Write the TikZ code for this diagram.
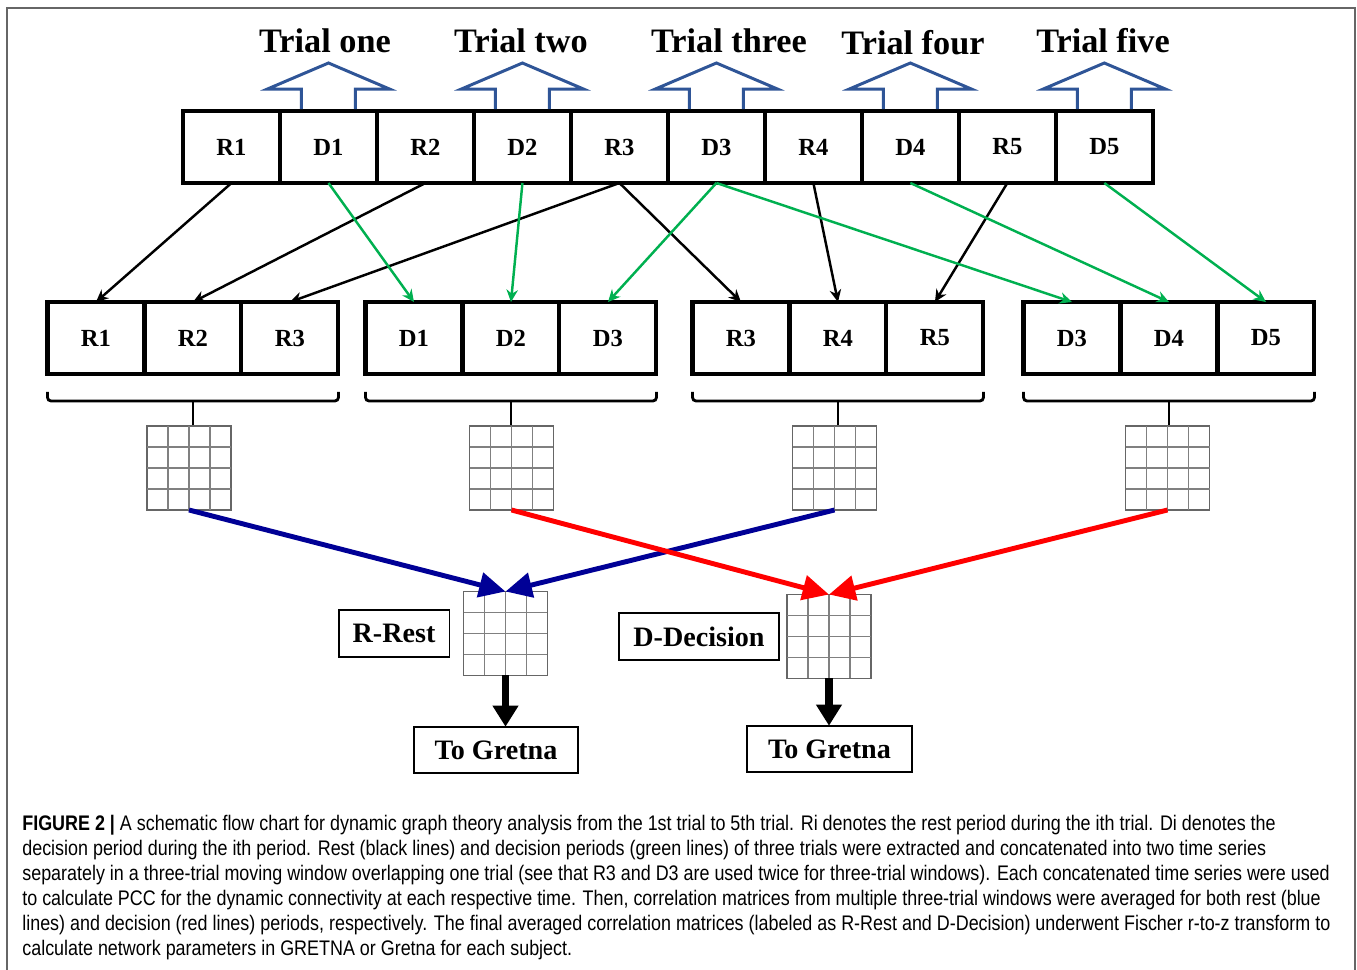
\documentclass[tikz,border=0pt]{standalone}
\usepackage{fontspec}
\setmainfont{Liberation Serif}
\newfontfamily\capfont[FakeStretch=0.85]{Liberation Sans}
\usepackage{tikz}
\usetikzlibrary{arrows.meta,calc,positioning}
\definecolor{trialblue}{RGB}{47,85,151}
\definecolor{restblue}{RGB}{0,0,150}
\definecolor{decgreen}{RGB}{0,176,80}
\tikzstyle{cell}      =[rectangle, draw, line width=2.3pt, minimum width=1.94cm,
                        minimum height=1.44cm, inner sep=0pt, outer sep=0pt,
                        font=\fontsize{14}{16}\selectfont\bfseries]
\tikzstyle{textbox}   =[rectangle, draw, line width=1.1pt, minimum height=0.93cm,
                        inner sep=0pt, outer sep=0pt,
                        font=\fontsize{16}{19}\selectfont\bfseries]
\tikzstyle{corrmat}   =[rectangle, draw=black!60, line width=0.8pt,
                        minimum size=1.68cm, inner sep=0pt, outer sep=0pt]
\tikzstyle{gridline}  =[black!50, line width=0.7pt]
\tikzstyle{trialarrow}=[draw=trialblue, line width=1.7pt]
\tikzstyle{trial}     =[font=\fontsize{19.5}{23}\selectfont\bfseries]
\tikzstyle{pick}      =[line width=1.4pt, -{Stealth[length=7pt,width=6.5pt]}]
\tikzstyle{rest}      =[pick, black]
\tikzstyle{dec}       =[pick, decgreen]
\tikzstyle{avg}       =[line width=2.8pt, -{Triangle[length=15pt,width=14pt]}]
\tikzstyle{bracket}   =[line width=1.6pt, rounded corners=2pt]
\tikzstyle{down}      =[line width=4pt, -{Triangle[length=12pt,width=14pt]}]

\begin{document}
\begin{tikzpicture}[x=0.02cm, y=-0.02cm]
    \useasboundingbox (0,0) rectangle (1357,970);
    \draw[black!60, line width=1.2pt] (7,970) -- (7,8) -- (1355,8) -- (1355,970);

    \node[cell] (tR1) at (231.5,147) {R1};
    \node[cell, right=0pt of tR1] (tD1) {D1};
    \node[cell, right=0pt of tD1] (tR2) {R2};
    \node[cell, right=0pt of tR2] (tD2) {D2};
    \node[cell, right=0pt of tD2] (tR3) {R3};
    \node[cell, right=0pt of tR3] (tD3) {D3};
    \node[cell, right=0pt of tD3] (tR4) {R4};
    \node[cell, right=0pt of tR4] (tD4) {D4};
    \node[cell, right=0pt of tD4] (tR5) {R5};
    \node[cell, right=0pt of tR5] (tD5) {D5};

    \node[trial] (l1) at (325,41) {Trial one};
    \node[trial] (l2) at (521,41) {Trial two};
    \node[trial] (l3) at (729,41) {Trial three};
    \node[trial] (l4) at (913,43) {Trial four};
    \node[trial] (l5) at (1103,41) {Trial five};
    \foreach \d in {tD1,tD2,tD3,tD4,tD5}
        \draw[trialarrow] ($(\d.north)+(-27,-2)$) -- ++(0,-20) -- ++(-34,0)
            -- ++(61,-26) -- ++(61,26) -- ++(-34,0) -- ++(0,20);

    \node[cell] (aR1) at (96,338) {R1};
    \node[cell, right=0pt of aR1] (aR2) {R2};
    \node[cell, right=0pt of aR2] (aR3) {R3};
    \node[cell] (bD1) at (414,338) {D1};
    \node[cell, right=0pt of bD1] (bD2) {D2};
    \node[cell, right=0pt of bD2] (bD3) {D3};
    \node[cell] (cR3) at (741,338) {R3};
    \node[cell, right=0pt of cR3] (cR4) {R4};
    \node[cell, right=0pt of cR4] (cR5) {R5};
    \node[cell] (dD3) at (1072,338) {D3};
    \node[cell, right=0pt of dD3] (dD4) {D4};
    \node[cell, right=0pt of dD4] (dD5) {D5};

    \draw[rest] (tR1.south) -- (aR1.north);
    \draw[rest] (tR2.south) -- (aR2.north);
    \draw[rest] (tR3.south) -- (aR3.north);
    \draw[rest] (tR3.south) -- (cR3.north);
    \draw[rest] (tR4.south) -- (cR4.north);
    \draw[rest] (tR5.south) -- (cR5.north);
    \draw[dec] (tD1.south) -- (bD1.north);
    \draw[dec] (tD2.south) -- (bD2.north);
    \draw[dec] (tD3.south) -- (bD3.north);
    \draw[dec] (tD3.south) -- (dD3.north);
    \draw[dec] (tD4.south) -- (dD4.north);
    \draw[dec] (tD5.south) -- (dD5.north);

    \foreach \l/\c/\r in {aR1/aR2/aR3, bD1/bD2/bD3, cR3/cR4/cR5, dD3/dD4/dD5} {
        \draw[bracket] ($(\l.south west)+(0,18)$) |- ($(\r.south east)+(0,27)$)
            -- ($(\r.south east)+(0,18)$);
        \draw[bracket] ($(\c.south)+(0,27)$) -- ($(\c.south)+(0,51)$);
    }

    \node[corrmat] (m1) at (189,468) {};
    \node[corrmat] (m2) at (511.5,468) {};
    \node[corrmat] (m3) at (834.5,468) {};
    \node[corrmat] (m4) at (1167.5,468) {};
    \node[corrmat] (mR) at (505.5,633.5) {};
    \node[corrmat] (mD) at (829,636.5) {};
    \foreach \m in {m1,m2,m3,m4,mR,mD}
        \foreach \k in {1,2,3} {
            \draw[gridline] ($(\m.north west)!\k/4!(\m.north east)$)
                -- ($(\m.south west)!\k/4!(\m.south east)$);
            \draw[gridline] ($(\m.north west)!\k/4!(\m.south west)$)
                -- ($(\m.north east)!\k/4!(\m.south east)$);
        }

    \draw[avg, restblue] (m1.south) -- (mR.north);
    \draw[avg, restblue] (m3.south) -- (mR.north);
    \draw[avg, red] (m2.south) -- (mD.north);
    \draw[avg, red] (m4.south) -- (mD.north);

    \node[textbox, minimum width=2.22cm, left=0.28cm of mR] (rest) {R-Rest};
    \node[textbox, minimum width=3.2cm, left=0.16cm of mD] (decision) {D-Decision};
    \node[textbox, minimum width=3.28cm] (g1) at (496,750) {To Gretna};
    \node[textbox, minimum width=3.3cm] (g2) at (829.5,749) {To Gretna};
    \draw[down] (mR.south) -- (mR.south |- g1.north);
    \draw[down] (mD.south) -- (mD.south |- g2.north);

    \node[anchor=north west, align=left, inner sep=0pt,
          font=\capfont\fontsize{12}{14.2}\selectfont] (caption) at (22,815)
        {\textbf{FIGURE 2 |} A schematic flow chart for dynamic graph theory analysis from the 1st trial to 5th trial. Ri denotes the rest period during the ith trial. Di denotes the\\
         decision period during the ith period. Rest (black lines) and decision periods (green lines) of three trials were extracted and concatenated into two time series\\
         separately in a three-trial moving window overlapping one trial (see that R3 and D3 are used twice for three-trial windows). Each concatenated time series were used\\
         to calculate PCC for the dynamic connectivity at each respective time. Then, correlation matrices from multiple three-trial windows were averaged for both rest (blue\\
         lines) and decision (red lines) periods, respectively. The final averaged correlation matrices (labeled as R-Rest and D-Decision) underwent Fischer r-to-z transform to\\
         calculate network parameters in GRETNA or Gretna for each subject.};
\end{tikzpicture}
\end{document}
